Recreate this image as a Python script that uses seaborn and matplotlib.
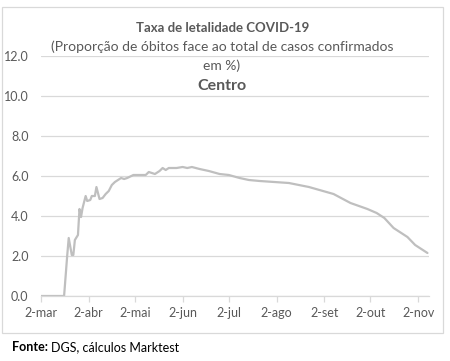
import matplotlib
matplotlib.use("Agg")
import matplotlib.pyplot as plt
import seaborn as sns
import pandas as pd
from matplotlib.patches import Rectangle

dates = ["2020-03-02", "2020-03-10", "2020-03-17", "2020-03-19", "2020-03-20", "2020-03-22",
         "2020-03-23", "2020-03-24", "2020-03-26", "2020-03-27", "2020-03-28", "2020-03-29",
         "2020-03-31", "2020-04-01", "2020-04-03", "2020-04-04", "2020-04-06", "2020-04-07",
         "2020-04-09", "2020-04-11", "2020-04-13", "2020-04-15", "2020-04-17", "2020-04-19",
         "2020-04-23", "2020-04-25", "2020-04-27", "2020-05-01", "2020-05-05", "2020-05-09",
         "2020-05-11", "2020-05-15", "2020-05-18", "2020-05-20", "2020-05-22", "2020-05-24",
         "2020-05-29", "2020-06-02", "2020-06-05", "2020-06-08", "2020-06-13", "2020-06-19",
         "2020-06-26", "2020-07-02", "2020-07-09", "2020-07-15", "2020-07-22", "2020-08-10",
         "2020-08-23", "2020-09-08", "2020-09-19", "2020-09-30", "2020-10-06", "2020-10-11",
         "2020-10-17", "2020-10-26", "2020-10-31", "2020-11-08"]
values = [0.0, 0.0, 0.0, 2.0, 2.9, 2.05,
          2.05, 2.8, 3.05, 4.35, 3.95, 4.4,
          5.0, 4.75, 4.8, 5.0, 5.0, 5.45,
          4.85, 4.9, 5.1, 5.25, 5.55, 5.7,
          5.9, 5.85, 5.9, 6.05, 6.05, 6.05,
          6.2, 6.1, 6.25, 6.4, 6.3, 6.4,
          6.4, 6.45, 6.4, 6.45, 6.35, 6.25,
          6.1, 6.05, 5.9, 5.8, 5.75, 5.65,
          5.45, 5.1, 4.65, 4.35, 4.15, 3.9,
          3.4, 2.95, 2.55, 2.15]

tick_dates = ["2020-03-02", "2020-04-02", "2020-05-02", "2020-06-02", "2020-07-02",
              "2020-08-02", "2020-09-02", "2020-10-02", "2020-11-02"]
tick_labels = ["2-mar", "2-abr", "2-mai", "2-jun", "2-jul", "2-ago", "2-set", "2-out", "2-nov"]
y_ticks = [0, 2, 4, 6, 8, 10, 12]

df = pd.DataFrame({"data": pd.to_datetime(dates), "taxa": values})

sns.set_theme(style="white")
plt.rcParams['font.family'] = ['Lato', 'DejaVu Sans']

fig = plt.figure(figsize=(4.5, 3.61), dpi=100)
ax = fig.add_axes([41/450, 1-296/361, (429-41)/450, (296-56)/361])

sns.lineplot(data=df, x="data", y="taxa", ax=ax, color="#bfbfbf", linewidth=1.6)

ax.set_xlim(pd.Timestamp("2020-03-02"), pd.Timestamp("2020-11-09"))
ax.set_ylim(0, 12)
ax.set_yticks(y_ticks)
ax.set_yticklabels([f"{v:.1f}" for v in y_ticks])
ax.set_xticks(pd.to_datetime(tick_dates))
ax.set_xticklabels(tick_labels)
ax.set_xlabel("")
ax.set_ylabel("")

ax.grid(axis="y", color="#d9d9d9", linewidth=0.9)
ax.set_axisbelow(True)
for s in ["top", "right", "left"]:
    ax.spines[s].set_visible(False)
ax.spines["bottom"].set_color("#d9d9d9")
ax.spines["bottom"].set_linewidth(0.9)
ax.tick_params(axis="x", which="both", bottom=True, length=4, width=0.9, color="#d9d9d9",
               labelsize=9, labelcolor="#595959", pad=4)
ax.tick_params(axis="y", left=False, length=0, labelsize=9, labelcolor="#595959", pad=9)

# chart border
fig.patches.append(Rectangle((2/450, 1-333/361), 441/450, 326/361, transform=fig.transFigure,
                             fill=False, edgecolor="#d9d9d9", linewidth=0.9))

fig.text(223/450, 1-28/361, "Taxa de letalidade COVID-19", ha="center", va="center",
         fontsize=9.5, fontweight="bold", color="#595959")
fig.text(222/450, 1-47/361, "(Proporção de óbitos face ao total de casos confirmados",
         ha="center", va="center", fontsize=10, color="#595959")
fig.text(222/450, 1-66/361, "em %)", ha="center", va="center", fontsize=10, color="#595959")
fig.text(222/450, 1-86/361, "Centro", ha="center", va="center", fontsize=11.5,
         fontweight="bold", color="#595959")

fig.text(12/450, 1-347/361, "Fonte:", ha="left", va="center", fontsize=9,
         fontweight="bold", color="#000000")
fig.text(51/450, 1-347/361, "DGS, cálculos Marktest", ha="left", va="center", fontsize=9,
         color="#000000")

fig.savefig("out.png", dpi=100)
